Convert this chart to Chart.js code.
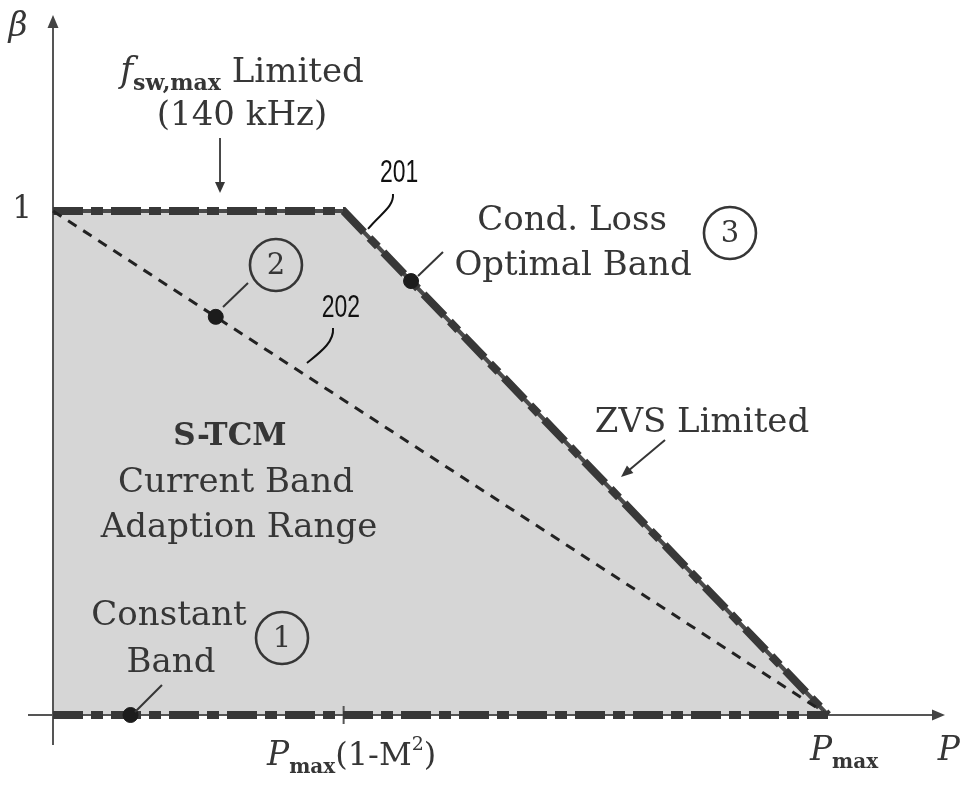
<!DOCTYPE html>
<html>
<head>
<meta charset="utf-8">
<script src="https://cdn.jsdelivr.net/npm/chart.js@4/dist/chart.umd.min.js"></script>
<style>
  html, body { margin: 0; padding: 0; background: #ffffff; }
  canvas { display: block; }
</style>
</head>
<body>
<canvas id="chart" width="969" height="785"></canvas>
<script>
// P is normalised to Pmax, beta is the normalised current band
const kneeP = 0.375;                 // Pmax(1-M^2)
const boundaryP = [0, kneeP, 1];     // curve 201: fsw,max limit then ZVS limit
const boundaryBeta = [1, 1, 0];
const constantBandP = [0, 1];        // constant band along beta = 0
const constantBandBeta = [0, 0];
const line202P = [0, 1];             // curve 202
const line202Beta = [1, 0];
const markerP = [0.1, 0.21, 0.462];  // operating points 1, 2, 3
const markerBeta = [0, 0.79, 0.861];
const xTickValues = [kneeP, 1];
const yTickValues = [1];

const pts = (xs, ys) => xs.map((x, i) => ({ x, y: ys[i] }));

const ink = '#363636';
const serif = '"DejaVu Serif", serif';
const body = '34px ' + serif;

function rich(ctx, pieces, cx, baseY) {
  let total = 0;
  pieces.forEach(p => { ctx.font = p.font; p.w = ctx.measureText(p.t).width; total += p.w; });
  let x = cx - total / 2;
  ctx.textAlign = 'left';
  ctx.textBaseline = 'alphabetic';
  pieces.forEach(p => { ctx.font = p.font; ctx.fillText(p.t, x, baseY + (p.dy || 0)); x += p.w; });
}

function text(ctx, t, x, y, font) {
  ctx.font = font;
  ctx.textAlign = 'center';
  ctx.textBaseline = 'alphabetic';
  ctx.fillText(t, x, y);
}

function arrow(ctx, x1, y1, x2, y2, head, half) {
  const a = Math.atan2(y2 - y1, x2 - x1);
  ctx.beginPath();
  ctx.moveTo(x1, y1);
  ctx.lineTo(x2 - Math.cos(a) * head * 0.8, y2 - Math.sin(a) * head * 0.8);
  ctx.stroke();
  ctx.beginPath();
  ctx.moveTo(x2, y2);
  ctx.lineTo(x2 - Math.cos(a) * head + Math.sin(a) * half, y2 - Math.sin(a) * head - Math.cos(a) * half);
  ctx.lineTo(x2 - Math.cos(a) * head - Math.sin(a) * half, y2 - Math.sin(a) * head + Math.cos(a) * half);
  ctx.closePath();
  ctx.fill();
}

function circled(ctx, n, cx, cy) {
  ctx.beginPath();
  ctx.arc(cx, cy, 26, 0, Math.PI * 2);
  ctx.lineWidth = 2.6;
  ctx.stroke();
  ctx.font = '29px ' + serif;
  ctx.textAlign = 'center';
  ctx.textBaseline = 'middle';
  ctx.fillText(n, cx, cy + 1);
}

function narrowSans(ctx, t, x, y) {
  ctx.save();
  ctx.translate(x, y);
  ctx.scale(0.74, 1);
  ctx.font = '31px "Liberation Sans", Arial, sans-serif';
  ctx.fillStyle = '#111';
  ctx.textAlign = 'center';
  ctx.textBaseline = 'alphabetic';
  ctx.fillText(t, 0, 0);
  ctx.restore();
}

// Axes with arrow heads, drawn right after the shaded region
const axesPlugin = {
  id: 'axes',
  afterDatasetDraw(chart, args) {
    if (args.index !== 4) return;
    const { ctx } = chart;
    const xs = chart.scales.x, ys = chart.scales.y;
    const X = v => xs.getPixelForValue(v), Y = v => ys.getPixelForValue(v);
    ctx.save();
    ctx.strokeStyle = '#555';
    ctx.fillStyle = '#444';
    ctx.lineWidth = 2;
    arrow(ctx, X(xs.min), Y(0), X(xs.max), Y(0), 13, 5.5);
    arrow(ctx, X(0), Y(ys.min), X(0), Y(ys.max), 13, 5.5);
    // tick at the knee
    ctx.beginPath();
    ctx.moveTo(X(kneeP), Y(0) - 9);
    ctx.lineTo(X(kneeP), Y(0) + 9);
    ctx.stroke();
    ctx.restore();
  }
};

const labelPlugin = {
  id: 'labels',
  afterDraw(chart) {
    const { ctx } = chart;
    const xs = chart.scales.x, ys = chart.scales.y;
    const X = v => xs.getPixelForValue(v), Y = v => ys.getPixelForValue(v);
    ctx.save();
    ctx.fillStyle = ink;
    ctx.strokeStyle = ink;

    // axis names and tick labels
    text(ctx, 'β', X(-0.045), Y(1.347), 'italic 33px ' + serif);
    text(ctx, String(yTickValues[0]), X(-0.040), Y(0.986), '31px ' + serif);
    rich(ctx, [
      { t: 'P', font: 'italic 33px ' + serif },
      { t: 'max', font: 'bold 20px ' + serif, dy: 8 },
      { t: '(1-M', font: '32px ' + serif },
      { t: '2', font: '19px ' + serif, dy: -15 },
      { t: ')', font: '32px ' + serif }
    ], X(xTickValues[0]) + 8, Y(-0.100));
    rich(ctx, [
      { t: 'P', font: 'italic 33px ' + serif },
      { t: 'max', font: 'bold 20px ' + serif, dy: 8 }
    ], X(xTickValues[1]) + 16, Y(-0.089));
    text(ctx, 'P', X(1.156), Y(-0.089), 'italic 33px ' + serif);

    // fsw,max limited label and arrow
    rich(ctx, [
      { t: 'f', font: 'italic 35px ' + serif },
      { t: 'sw,max', font: 'bold 22px ' + serif, dy: 8 },
      { t: ' Limited', font: body }
    ], X(0.2439), Y(1.256));
    text(ctx, '(140 kHz)', X(0.2439), Y(1.1706), body);
    ctx.lineWidth = 1.8;
    arrow(ctx, X(0.2155), Y(1.1448), X(0.2155), Y(1.0357), 11, 5);

    // region 3 label
    text(ctx, 'Cond. Loss', X(0.6697), Y(0.9623), body);
    text(ctx, 'Optimal Band', X(0.671), Y(0.873), body);
    circled(ctx, '3', X(0.8735), Y(0.9563));
    ctx.lineWidth = 2;
    ctx.beginPath();
    ctx.moveTo(X(0.471), Y(0.871));
    ctx.lineTo(X(0.5032), Y(0.9187));
    ctx.stroke();

    // region 2
    circled(ctx, '2', X(0.2877), Y(0.8929));
    ctx.lineWidth = 2;
    ctx.beginPath();
    ctx.moveTo(X(0.2194), Y(0.8095));
    ctx.lineTo(X(0.2516), Y(0.8571));
    ctx.stroke();

    // region 1
    text(ctx, 'Constant', X(0.1497), Y(0.1786), body);
    text(ctx, 'Band', X(0.1523), Y(0.0853), body);
    circled(ctx, '1', X(0.2955), Y(0.1528));
    ctx.lineWidth = 2;
    ctx.beginPath();
    ctx.moveTo(X(0.1058), Y(0.006));
    ctx.lineTo(X(0.1406), Y(0.0595));
    ctx.stroke();

    // ZVS limited
    text(ctx, 'ZVS Limited', X(0.8374), Y(0.5615), body);
    ctx.lineWidth = 2;
    arrow(ctx, X(0.7897), Y(0.5456), X(0.7329), Y(0.4722), 12, 5);

    // S-TCM description
    text(ctx, 'S-TCM', X(0.2284), Y(0.5357), 'bold 31px ' + serif);
    text(ctx, 'Current Band', X(0.2361), Y(0.4425), body);
    text(ctx, 'Adaption Range', X(0.2400), Y(0.3532), body);

    // reference numerals with leader curves
    narrowSans(ctx, '201', X(0.4465), Y(1.0575));
    narrowSans(ctx, '202', X(0.3716), Y(0.7897));
    ctx.strokeStyle = '#111';
    ctx.lineWidth = 2;
    ctx.beginPath();
    ctx.moveTo(X(0.4387), Y(1.0337));
    ctx.bezierCurveTo(X(0.4400), Y(1.0079), X(0.4219), Y(0.994), X(0.4065), Y(0.9643));
    ctx.stroke();
    ctx.beginPath();
    ctx.moveTo(X(0.3613), Y(0.7679));
    ctx.bezierCurveTo(X(0.3630), Y(0.7401), X(0.3450), Y(0.7200), X(0.3277), Y(0.6984));
    ctx.stroke();

    ctx.restore();
  }
};

new Chart(document.getElementById('chart'), {
  type: 'scatter',
  data: {
    datasets: [
      { // operating points
        data: pts(markerP, markerBeta),
        showLine: false,
        pointRadius: 7.5,
        pointBackgroundColor: '#1c1c1c',
        pointBorderColor: '#1c1c1c',
        clip: false
      },
      { // constant band (dash-dot)
        data: pts(constantBandP, constantBandBeta),
        showLine: true,
        borderColor: '#383838',
        borderWidth: 8,
        borderDash: [30, 8, 12, 8],
        pointRadius: 0,
        fill: false
      },
      { // curve 202
        data: pts(line202P, line202Beta),
        showLine: true,
        borderColor: '#222',
        borderWidth: 3,
        borderDash: [10, 8],
        pointRadius: 0,
        fill: false
      },
      { // curve 201 (dash-dot)
        data: pts(boundaryP, boundaryBeta),
        showLine: true,
        borderColor: '#383838',
        borderWidth: 8,
        borderDash: [30, 8, 12, 8],
        pointRadius: 0,
        fill: false
      },
      { // adaption range shading under curve 201
        data: pts(boundaryP, boundaryBeta),
        showLine: true,
        borderColor: '#4a4a4a',
        borderWidth: 4,
        backgroundColor: '#d6d6d6',
        pointRadius: 0,
        fill: 'origin'
      }
    ]
  },
  options: {
    responsive: false,
    animation: false,
    devicePixelRatio: 1,
    layout: { padding: { left: 28, right: 24, top: 15, bottom: 40 } },
    scales: {
      x: { type: 'linear', min: -25 / 775, max: 892 / 775, display: false },
      y: { type: 'linear', min: -30 / 504, max: 700 / 504, display: false }
    },
    plugins: { legend: { display: false }, tooltip: { enabled: false } }
  },
  plugins: [axesPlugin, labelPlugin]
});
</script>
</body>
</html>
